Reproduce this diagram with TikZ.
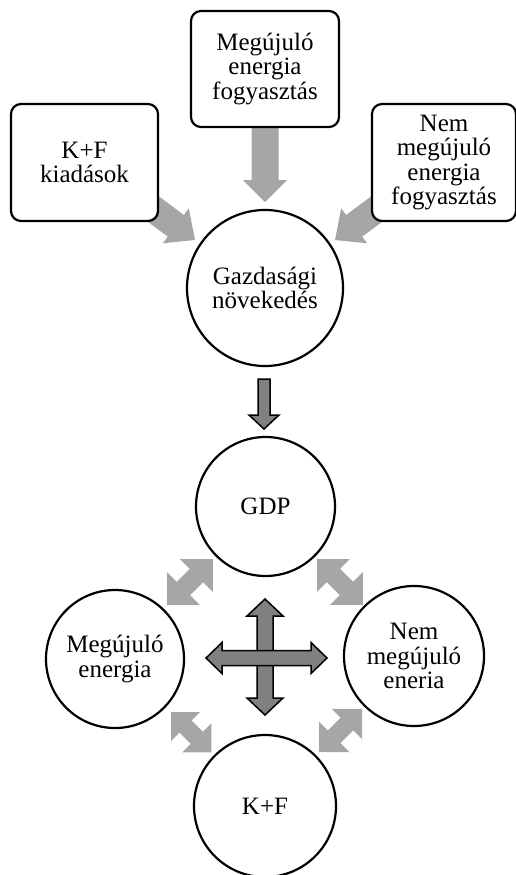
\documentclass[tikz,border=0pt]{standalone}
\usepackage{fontspec}
\setmainfont{Liberation Serif}
\pgfdeclarelayer{bg}
\pgfsetlayers{bg,main}
\definecolor{lgray}{HTML}{A6A6A6}
\definecolor{dgray}{HTML}{808080}
% #1 tail, #2 angle, #3 length, #4 shaft half width, #5 head half width, #6 head length, #7 style
\newcommand{\blockarrow}[7]{%
  \begin{scope}[shift={#1},rotate=#2]
    \path[#7] (0,-#4) -- ({#3-#6},-#4) -- ({#3-#6},-#5) -- (#3,0) -- ({#3-#6},#5) -- ({#3-#6},#4) -- (0,#4) -- cycle;
  \end{scope}}
\newcommand{\dblarrow}[7]{%
  \begin{scope}[shift={#1},rotate=#2]
    \path[#7] (#6,-#4) -- ({#3-#6},-#4) -- ({#3-#6},-#5) -- (#3,0) -- ({#3-#6},#5) -- ({#3-#6},#4) -- (#6,#4) -- (#6,#5) -- (0,0) -- (#6,-#5) -- cycle;
  \end{scope}}
\begin{document}
\begin{tikzpicture}[x=1pt,y=-1pt,
  txt/.style={align=center, font=\fontsize{25}{24.5}\selectfont, inner sep=0pt},
  box/.style={txt, draw, line width=2.2pt, rounded corners=10pt, fill=white},
  circ/.style={txt, circle, draw, line width=2.2pt, fill=white},
  light/.style={fill=lgray},
  dark/.style={fill=dgray, draw=black, line width=1.5pt, line join=miter}]
\useasboundingbox (0,0) rectangle (515,875);

% boxes
\node[box, minimum width=147pt, minimum height=117pt] (kfk) at (84.5,162.5) {K+F\\kiadások};
\node[box, minimum width=148pt, minimum height=116pt] (meg) at (265,69) {Megújuló\\energia\\fogyasztás};
\node[box, minimum width=144pt, minimum height=117pt] (nem) at (444,162.5) {Nem\\megújuló\\energia\\fogyasztás};

% circles
\node[circ, minimum size=156pt] (gaz) at (265,288) {Gazdasági\\növekedés};
\node[circ, minimum size=139pt] (gdp) at (265.5,506.5) {GDP};
\node[circ, minimum size=138pt] (mege) at (115,659) {Megújuló\\energia};
\node[circ, minimum size=140pt] (neme) at (414,656) {Nem\\megújuló\\eneria};
\node[circ, minimum size=142pt] (kf) at (265,806) {K+F};

\begin{pgfonlayer}{bg}
  % light arrows into Gazdasági növekedés
  \blockarrow{(meg.south)}{-90}{74}{13.5}{22}{22}{light}
  \blockarrow{(135.6,195.9)}{-36.6}{74}{13.5}{21.8}{23.9}{light}
  \blockarrow{(394.4,195.9)}{-143.4}{74}{13.5}{21.8}{23.9}{light}
\end{pgfonlayer}

% dark arrow Gazdasági -> GDP
\blockarrow{(264,379)}{-90}{50}{6}{15}{14}{dark}

% light double arrows
\dblarrow{(167,605)}{45}{65}{9.5}{23.3}{23.3}{light}
\dblarrow{(317,559)}{-45}{65}{9.5}{23.3}{23.3}{light}
\dblarrow{(171,712)}{-45}{57}{8.5}{20.5}{20.5}{light}
\dblarrow{(319,752)}{45}{61}{9}{21.5}{21.5}{light}

% central cross
\dblarrow{(265,599)}{-90}{116}{8}{18}{17}{dark}
\dblarrow{(206,658)}{0}{121}{7.5}{15.5}{16}{dark}
\end{tikzpicture}
\end{document}
